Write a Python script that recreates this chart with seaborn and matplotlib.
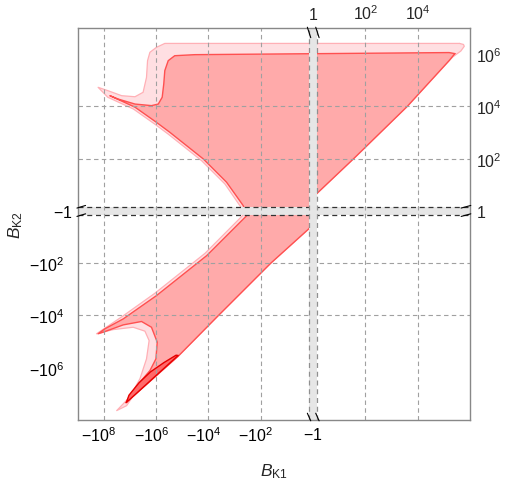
import matplotlib
matplotlib.use("Agg")
import matplotlib.pyplot as plt
import matplotlib.transforms as mtransforms
import pandas as pd
import seaborn as sns

# ------------------------------
# Data (log-decade units: sign(B) * log10|B|, the -1..1 interval is squeezed into the break)
# ------------------------------
outer_u = [5.60, 5.75, 5.78, 5.65, 5.35, 5.20, 3.60, 1.55, 0.195, 0.10, -0.10, -0.17,
           -1.62, -3.62, -5.16, -6.90, -7.13, -7.51, -7.01, -6.62, -6.37, -6.27, -6.43,
           -6.88, -7.64, -8.28, -7.30, -6.05, -4.13, -2.62, -2.75, -3.37, -4.26, -5.54,
           -6.05, -6.87, -7.85, -8.22, -7.84, -7.32, -6.81, -6.50, -6.37, -6.33, -6.24,
           -5.99, -5.67]
outer_v = [6.41, 6.37, 6.30, 6.12, 5.90, 5.75, 4.00, 2.00, 0.715, 0.62, -0.60, -0.69,
           -2.00, -4.00, -5.56, -7.11, -7.45, -7.64, -7.12, -6.42, -5.66, -4.96, -4.60,
           -4.45, -4.54, -4.70, -4.04, -3.15, -1.62, -0.10, 0.13, 1.03, 1.92, 2.94,
           3.32, 3.90, 4.35, 4.73, 4.60, 4.41, 4.37, 4.54, 5.11, 5.75, 6.07,
           6.26, 6.41]

mid_u = [5.42, 5.20, 3.60, 1.55, 0.195, 0.10, -0.10, -0.17, -1.62, -3.62, -5.16, -7.16,
         -7.01, -6.62, -6.24, -6.01, -5.96, -6.18, -6.56, -7.26, -8.03, -8.22, -7.96,
         -7.26, -5.99, -4.07, -2.54, -2.67, -3.31, -4.20, -5.48, -5.99, -6.81, -7.77,
         -7.45, -6.81, -6.18, -5.92, -5.77, -5.71, -5.67, -5.54, -5.29, -4.52, 5.20]
mid_v = [6.02, 5.75, 4.00, 2.00, 0.715, 0.62, -0.60, -0.69, -2.00, -4.00, -5.56, -7.34,
         -7.06, -6.55, -6.11, -5.66, -5.02, -4.45, -4.23, -4.36, -4.64, -4.70, -4.51,
         -4.13, -3.24, -1.71, -0.18, 0.20, 1.10, 1.99, 3.01, 3.39, 3.97, 4.41,
         4.28, 4.09, 4.03, 4.09, 4.35, 4.86, 5.37, 5.75, 5.94, 5.98, 6.06]

inner_u = [-7.14, -5.16, -5.24, -5.70, -6.22, -6.66, -7.04]
inner_v = [-7.33, -5.53, -5.52, -5.80, -6.16, -6.58, -7.05]

grid_x = [-8, -6, -4, -2, 2, 4]
grid_y = [-4, -2, 2, 4]

bottom_ticks = [-8, -6, -4, -2, 0]
bottom_labels = ["$\\mathregular{-10^{8}}$", "$\\mathregular{-10^{6}}$",
                 "$\\mathregular{-10^{4}}$", "$\\mathregular{-10^{2}}$", "$\\mathregular{-1}$"]
top_ticks = [0, 2, 4]
top_labels = ["$\\mathregular{1}$", "$\\mathregular{10^{2}}$", "$\\mathregular{10^{4}}$"]
left_ticks = [-6, -4, -2, 0]
left_labels = ["$\\mathregular{-10^{6}}$", "$\\mathregular{-10^{4}}$",
               "$\\mathregular{-10^{2}}$", "$\\mathregular{-1}$"]
right_ticks = [0, 2, 4, 6]
right_labels = ["$\\mathregular{1}$", "$\\mathregular{10^{2}}$",
                "$\\mathregular{10^{4}}$", "$\\mathregular{10^{6}}$"]

gap = 0.16  # half width of the axis break band

# ------------------------------
# Style
# ------------------------------
sns.set_theme(style="white")
plt.rcParams["font.family"] = ["Liberation Sans", "DejaVu Sans"]
plt.rcParams["mathtext.fontset"] = "custom"
plt.rcParams["mathtext.rm"] = "Liberation Sans"
plt.rcParams["mathtext.it"] = "Liberation Sans:italic"
plt.rcParams["mathtext.bf"] = "Liberation Sans:bold"

fig = plt.figure(figsize=(5.06, 4.81), dpi=100)
ax = fig.add_axes([0.1536, 0.1247, 0.7753, 0.8150])

# ------------------------------
# Regions
# ------------------------------
def closed(u, v):
    return pd.DataFrame({"u": u + [u[0]], "v": v + [v[0]]})

regions = [
    (outer_u, outer_v, "#ffdfe2", "#ffb0b6", 0.9),
    (mid_u, mid_v, "#ffaaaa", "#ff5050", 1.0),
    (inner_u, inner_v, "#ff6a6a", "#e60000", 1.0),
]
for i, (u, v, fc, ec, lw) in enumerate(regions):
    ax.fill(u, v, facecolor=fc, edgecolor="none", zorder=1 + i)
    sns.lineplot(data=closed(u, v), x="u", y="v", sort=False, estimator=None,
                 color=ec, linewidth=lw, ax=ax, zorder=1.5 + i)

# horizontal break band
ax.axhspan(-gap, gap, facecolor="#e6e6e6", edgecolor="none", zorder=5)
for e in (-gap, gap):
    ax.axhline(e, color="#333333", lw=0.9, ls=(0, (4, 3)), zorder=5.2)

# grid
for g in grid_x:
    ax.axvline(g, color="#a0a0a0", lw=0.8, ls=(0, (4, 3)), zorder=6)
for g in grid_y:
    ax.axhline(g, color="#a0a0a0", lw=0.8, ls=(0, (4, 3)), zorder=6)

# vertical break band
ax.axvspan(-gap, gap, facecolor="#e6e6e6", edgecolor="none", zorder=7)
for e in (-gap, gap):
    ax.axvline(e, color="#909090", lw=0.9, ls=(0, (4, 3)), zorder=7.2)

ax.set_xlim(-9, 6)
ax.set_ylim(-8, 7)

# break markers on the frame
for e in (-gap, gap):
    ax.plot([e - 0.06, e + 0.07], [7.03, 6.63], color="black", lw=0.8, clip_on=False, zorder=9)
    ax.plot([e - 0.06, e + 0.07], [-7.74, -8.03], color="black", lw=0.8, clip_on=False, zorder=9)
    ax.plot([-9.03, -8.70], [e - 0.05, e + 0.05], color="black", lw=0.8, clip_on=False, zorder=9)
    ax.plot([5.66, 6.03], [e - 0.05, e + 0.05], color="black", lw=0.8, clip_on=False, zorder=9)

# ------------------------------
# Axes, ticks, labels
# ------------------------------
for s in ax.spines.values():
    s.set_color("#888888")
    s.set_linewidth(1.0)
    s.set_zorder(8)

ax.set_xticks(bottom_ticks, labels=bottom_labels)
ax.set_yticks(left_ticks, labels=left_labels)
ax.tick_params(axis="x", length=0, labelsize=11.5, pad=4, colors="black")
ax.tick_params(axis="y", length=0, labelsize=11.5, pad=10, colors="black")

secx = ax.secondary_xaxis("top")
secx.set_xticks(top_ticks, labels=top_labels)
secx.tick_params(length=0, labelsize=11.5, pad=4)
secy = ax.secondary_yaxis("right")
secy.set_yticks(right_ticks, labels=right_labels)
secy.tick_params(length=0, labelsize=11.5, pad=4)
for sa in (secx, secy):
    for s in sa.spines.values():
        s.set_visible(False)

# Mathematica-like label offsets
for lab in ax.get_xticklabels()[:-1]:
    lab.set_transform(lab.get_transform() + mtransforms.ScaledTranslation(-5 / 100, 0, fig.dpi_scale_trans))
lab = ax.get_yticklabels()[-1]
lab.set_transform(lab.get_transform() + mtransforms.ScaledTranslation(8.5 / 100, 0, fig.dpi_scale_trans))

ax.set_xlabel("$B_{\\mathrm{K1}}$", fontsize=12.5)
ax.set_ylabel("$B_{\\mathrm{K2}}$", fontsize=12.5)
ax.xaxis.set_label_coords(0.5, -0.105)
ax.yaxis.set_label_coords(-0.135, 0.5)

fig.savefig("out.png", dpi=100)
